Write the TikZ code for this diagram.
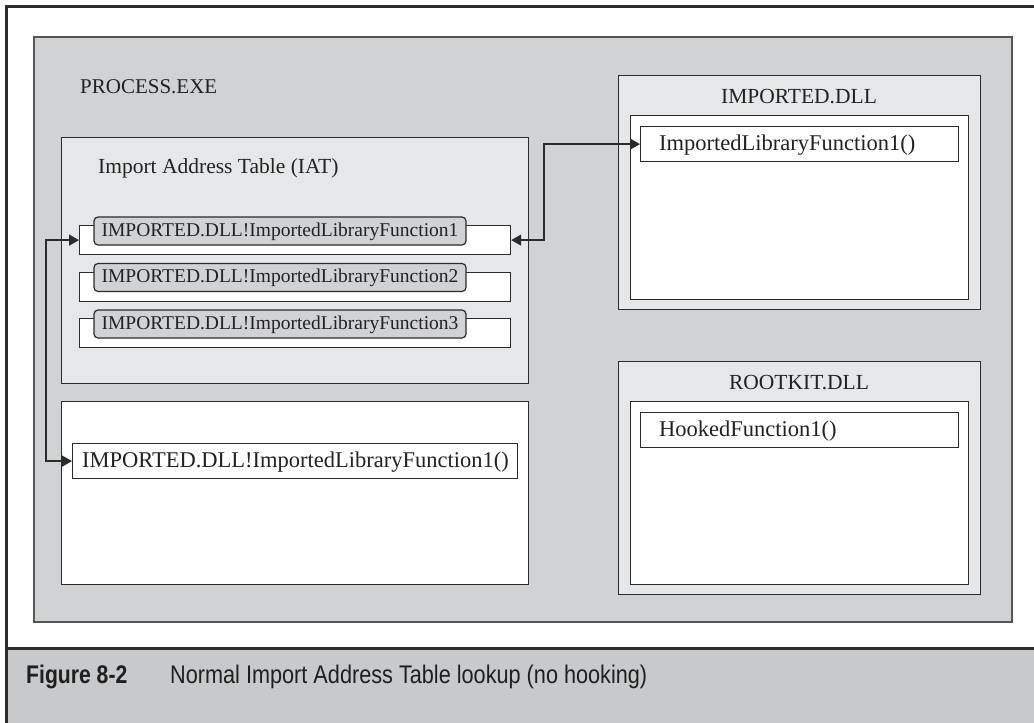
\documentclass[tikz,border=0pt]{standalone}
\usepackage{fontspec}
\setmainfont{Liberation Serif}
\newfontfamily\capfont[FakeStretch=0.85]{Liberation Sans}
\newfontfamily\capbfont[FakeStretch=0.83]{Liberation Sans Bold}
\usetikzlibrary{arrows.meta}
\definecolor{procgray}{HTML}{D1D2D4}
\definecolor{lightgrayb}{HTML}{E6E7E8}
\definecolor{capgray}{HTML}{C8C9CB}
\definecolor{linecol}{HTML}{2B2B2B}
\definecolor{txtcol}{HTML}{222222}
\begin{document}
\begin{tikzpicture}[x=1pt,y=-1pt,
  box/.style={draw=linecol, line width=1.2pt, inner sep=0pt, anchor=north west},
  procbox/.style={box, draw=linecol!80, line width=1.5pt, fill=procgray},
  graybox/.style={box, fill=lightgrayb},
  whitebox/.style={box, fill=white},
  slotbox/.style={box, fill=white, minimum width=431, minimum height=29},
  lbl/.style={draw=linecol, line width=1.2pt, fill=procgray, rounded corners=4pt,
     inner sep=0pt, minimum width=372, minimum height=28, text height=14pt, text depth=4pt,
     font=\fontsize{19.5}{20}\selectfont, text=txtcol},
  ttl/.style={anchor=base, inner sep=0pt, font=\fontsize{21.5}{22}\selectfont, text=txtcol},
  ttlw/.style={anchor=base west, inner sep=0pt, font=\fontsize{21.5}{22}\selectfont, text=txtcol},
  fn/.style={anchor=base west, inner sep=0pt, font=\fontsize{22.5}{23}\selectfont, text=txtcol},
  conn/.style={draw=linecol, line width=1.4pt, {Triangle[length=10pt,width=11pt]}-{Triangle[length=10pt,width=11pt]}},
  capt/.style={anchor=base west, inner sep=0pt, text=black!88}
]
\useasboundingbox (0,0) rectangle (1034,723);
\fill[white] (0,0) rectangle (1034,723);
% caption band
\fill[capgray] (6,648) rectangle (1034,723);
\draw[line width=3pt, linecol] (1034,6) -- (6,6) -- (6,723);
\draw[line width=3pt, linecol] (6,648) -- (1034,648);

% process
\node[procbox, minimum width=978, minimum height=585] (proc) at (33,36) {};
\node[ttlw, font=\fontsize{21}{22}\selectfont] (proct) at (80,93) {PROCESS.EXE};

% IAT
\node[graybox, minimum width=467, minimum height=246] (iat) at (61,137) {};
\node[ttlw] (iatt) at (98,173) {Import Address Table (IAT)};
\node[slotbox] (r1) at (79,225) {};
\node[slotbox] (r2) at (79,272) {};
\node[slotbox] (r3) at (79,318) {};
\node[lbl] (l1) at (280,231) {IMPORTED.DLL!ImportedLibraryFunction1};
\node[lbl] (l2) at (280,277.5) {IMPORTED.DLL!ImportedLibraryFunction2};
\node[lbl] (l3) at (280,324) {IMPORTED.DLL!ImportedLibraryFunction3};

% lower white box
\node[whitebox, minimum width=467, minimum height=183] (low) at (61,401) {};
\node[whitebox, minimum width=445, minimum height=35] (lf) at (72,443) {};
\node[fn] (lft) at (82,467) {IMPORTED.DLL!ImportedLibraryFunction1()};

% IMPORTED.DLL
\node[graybox, minimum width=362, minimum height=234] (imp) at (618,75) {};
\node[ttl] (impt) at (799,103) {IMPORTED.DLL};
\node[whitebox, minimum width=338, minimum height=184] (impi) at (630,115) {};
\node[whitebox, minimum width=318, minimum height=35] (f1) at (640,126) {};
\node[fn] (f1t) at (659,150) {ImportedLibraryFunction1()};

% ROOTKIT.DLL
\node[graybox, minimum width=362, minimum height=233] (rk) at (618,361) {};
\node[ttl] (rkt) at (799,389) {ROOTKIT.DLL};
\node[whitebox, minimum width=338, minimum height=183] (rki) at (630,401) {};
\node[whitebox, minimum width=318, minimum height=35] (hk) at (640,412) {};
\node[fn] (hkt) at (659,436) {HookedFunction1()};

% connectors
\coordinate (lx) at (46,0);
\coordinate (rx) at (544,0);
\draw[conn] (r1.west) -- (r1.west -| lx) |- (lf.west);
\draw[conn] (r1.east) -- (r1.east -| rx) |- (f1.west);

% caption
\node[capt, font=\capbfont\fontsize{25.5}{27}\selectfont] (fig) at (26,683) {Figure 8-2};
\node[capt, font=\capfont\fontsize{25.5}{27}\selectfont] (captxt) at (170,683) {Normal Import Address Table lookup (no hooking)};
\end{tikzpicture}
\end{document}
